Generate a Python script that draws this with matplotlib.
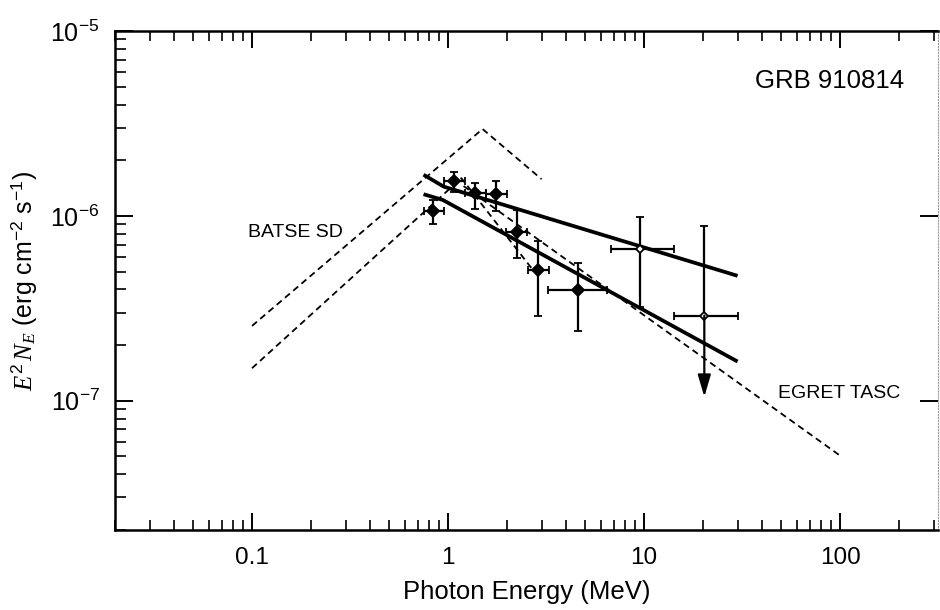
import matplotlib
matplotlib.use("Agg")
import matplotlib.pyplot as plt
from matplotlib.ticker import LogLocator, NullFormatter, LogFormatterSciNotation
import numpy as np

plt.rcParams['font.family'] = ['Liberation Sans', 'DejaVu Sans']
plt.rcParams['mathtext.fontset'] = 'custom'
plt.rcParams['mathtext.rm'] = 'Liberation Sans'
plt.rcParams['mathtext.sf'] = 'Liberation Sans'
plt.rcParams['mathtext.it'] = 'Liberation Serif:italic'
plt.rcParams['mathtext.bf'] = 'Liberation Sans:bold'

# ---- data ----
# EGRET TASC data points (MeV, erg cm^-2 s^-1)
energy    = [0.84, 1.07, 1.37, 1.76, 2.24, 2.89, 4.59, 9.53]
energy_lo = [0.757, 0.957, 1.22, 1.563, 1.98, 2.57, 3.25, 6.76]
energy_hi = [0.957, 1.22, 1.563, 2.007, 2.52, 3.29, 6.45, 14.3]
flux      = [1.064e-6, 1.546e-6, 1.326e-6, 1.31e-6, 0.823e-6, 0.51e-6, 0.395e-6, 0.66e-6]
flux_lo   = [0.905e-6, 1.353e-6, 1.087e-6, 1.064e-6, 0.59e-6, 0.286e-6, 0.237e-6, 0.323e-6]
flux_hi   = [1.22e-6, 1.735e-6, 1.503e-6, 1.546e-6, 1.077e-6, 0.735e-6, 0.555e-6, 0.99e-6]
hollow    = [False, False, False, False, False, False, False, True]

# upper-limit point
ul_energy = 20.3
ul_energy_lo = 14.2
ul_energy_hi = 30.3
ul_flux = 2.89e-7
ul_flux_hi = 8.83e-7
ul_arrow_tip = 1.05e-7

# solid fitted spectra
fit1_E = [0.75, 0.95, 30.0]
fit1_F = [1.67e-6, 1.44e-6, 4.74e-7]
fit2_E = [0.75, 0.94, 30.0]
fit2_F = [1.31e-6, 1.22e-6, 1.63e-7]

# dashed BATSE SD spectra
batse1_E = [0.1, 1.5, 3.0]
batse1_F = [2.54e-7, 2.95e-6, 1.58e-6]
batse2_E = [0.1, 1.17, 2.75]
batse2_F = [1.5e-7, 1.6e-6, 5.0e-7]

# dashed EGRET TASC spectrum
tasc_E = [1.2, 100.0]
tasc_F = [1.45e-6, 5.05e-8]

x_ticks = [0.1, 1, 10, 100]
x_ticklabels = ['0.1', '1', '10', '100']

# ---- figure ----
fig = plt.figure(figsize=(9.4, 6.1), dpi=100)
ax = fig.add_axes([115/940, 1-530/610, (938-115)/940, (530-31)/610])
ax.set_xscale('log')
ax.set_yscale('log')
ax.set_xlim(0.02, 316)
ax.set_ylim(2e-8, 1e-5)

dash = (0, (3.6, 2.4))
ax.plot(batse1_E, batse1_F, color='k', lw=1.3, linestyle=dash)
ax.plot(batse2_E, batse2_F, color='k', lw=1.3, linestyle=dash)
ax.plot(tasc_E, tasc_F, color='k', lw=1.3, linestyle=dash)

ax.plot(fit1_E, fit1_F, color='k', lw=2.7, solid_capstyle='butt')
ax.plot(fit2_E, fit2_F, color='k', lw=2.7, solid_capstyle='butt')

for e, elo, ehi, f, flo, fhi, h in zip(energy, energy_lo, energy_hi, flux, flux_lo, flux_hi, hollow):
    ax.errorbar([e], [f], xerr=[[e-elo], [ehi-e]], yerr=[[f-flo], [fhi-f]],
                fmt='D', color='k', ms=6 if not h else 4.5,
                mfc='white' if h else 'k', mec='k', mew=1.3,
                elinewidth=1.6, capsize=3, capthick=1.5)

# upper limit
ax.errorbar([ul_energy], [ul_flux], xerr=[[ul_energy-ul_energy_lo], [ul_energy_hi-ul_energy]],
            yerr=[[0], [ul_flux_hi-ul_flux]], fmt='D', color='k', ms=4.5,
            mfc='white', mec='k', mew=1.3, elinewidth=1.6, capsize=3, capthick=1.5)
ax.annotate('', xy=(ul_energy, ul_arrow_tip), xytext=(ul_energy, ul_flux),
            arrowprops=dict(arrowstyle='-|>,head_length=0.95,head_width=0.28',
                            mutation_scale=14, lw=1.6, color='k',
                            shrinkA=0, shrinkB=0))

# texts
ax.text(36.8, 4.92e-6, 'GRB 910814', fontsize=18.5, ha='left', va='baseline')
ax.text(0.0954, 7.7e-7, 'BATSE SD', fontsize=14, ha='left', va='baseline')
ax.text(48.3, 1.04e-7, 'EGRET TASC', fontsize=14, ha='left', va='baseline')

# axes styling
for side in ['left', 'bottom', 'top']:
    ax.spines[side].set_linewidth(1.8)
ax.spines['right'].set_linewidth(0.8)
ax.spines['right'].set_color('0.6')
ax.spines['right'].set_linestyle(':')

ax.xaxis.set_major_locator(LogLocator(base=10, numticks=20))
ax.xaxis.set_minor_locator(LogLocator(base=10, subs=np.arange(2, 10), numticks=20))
ax.set_xticks(x_ticks)
ax.set_xticklabels(x_ticklabels)
ax.xaxis.set_minor_formatter(NullFormatter())

ax.yaxis.set_major_locator(LogLocator(base=10, numticks=20))
ax.yaxis.set_minor_locator(LogLocator(base=10, subs=np.arange(2, 10), numticks=20))
ax.yaxis.set_major_formatter(LogFormatterSciNotation())
ax.yaxis.set_minor_formatter(NullFormatter())

ax.tick_params(axis='x', which='major', direction='in', length=12, width=1.4,
               top=True, bottom=True, labelsize=17.5, pad=12)
ax.tick_params(axis='x', which='minor', direction='in', length=7, width=1.2,
               top=True, bottom=True)
ax.tick_params(axis='y', which='major', direction='in', length=13, width=1.4,
               left=True, right=True, labelsize=18, pad=11)
ax.tick_params(axis='y', which='minor', direction='in', length=8, width=1.2,
               left=True, right=False)

ax.set_xlabel('Photon Energy (MeV)', fontsize=18.5, labelpad=8)
ax.set_ylabel(r'$E^{2}\,N_{E}$ (erg cm$^{-2}$ s$^{-1}$)', fontsize=18, labelpad=8)

fig.savefig('out.png', dpi=100)
